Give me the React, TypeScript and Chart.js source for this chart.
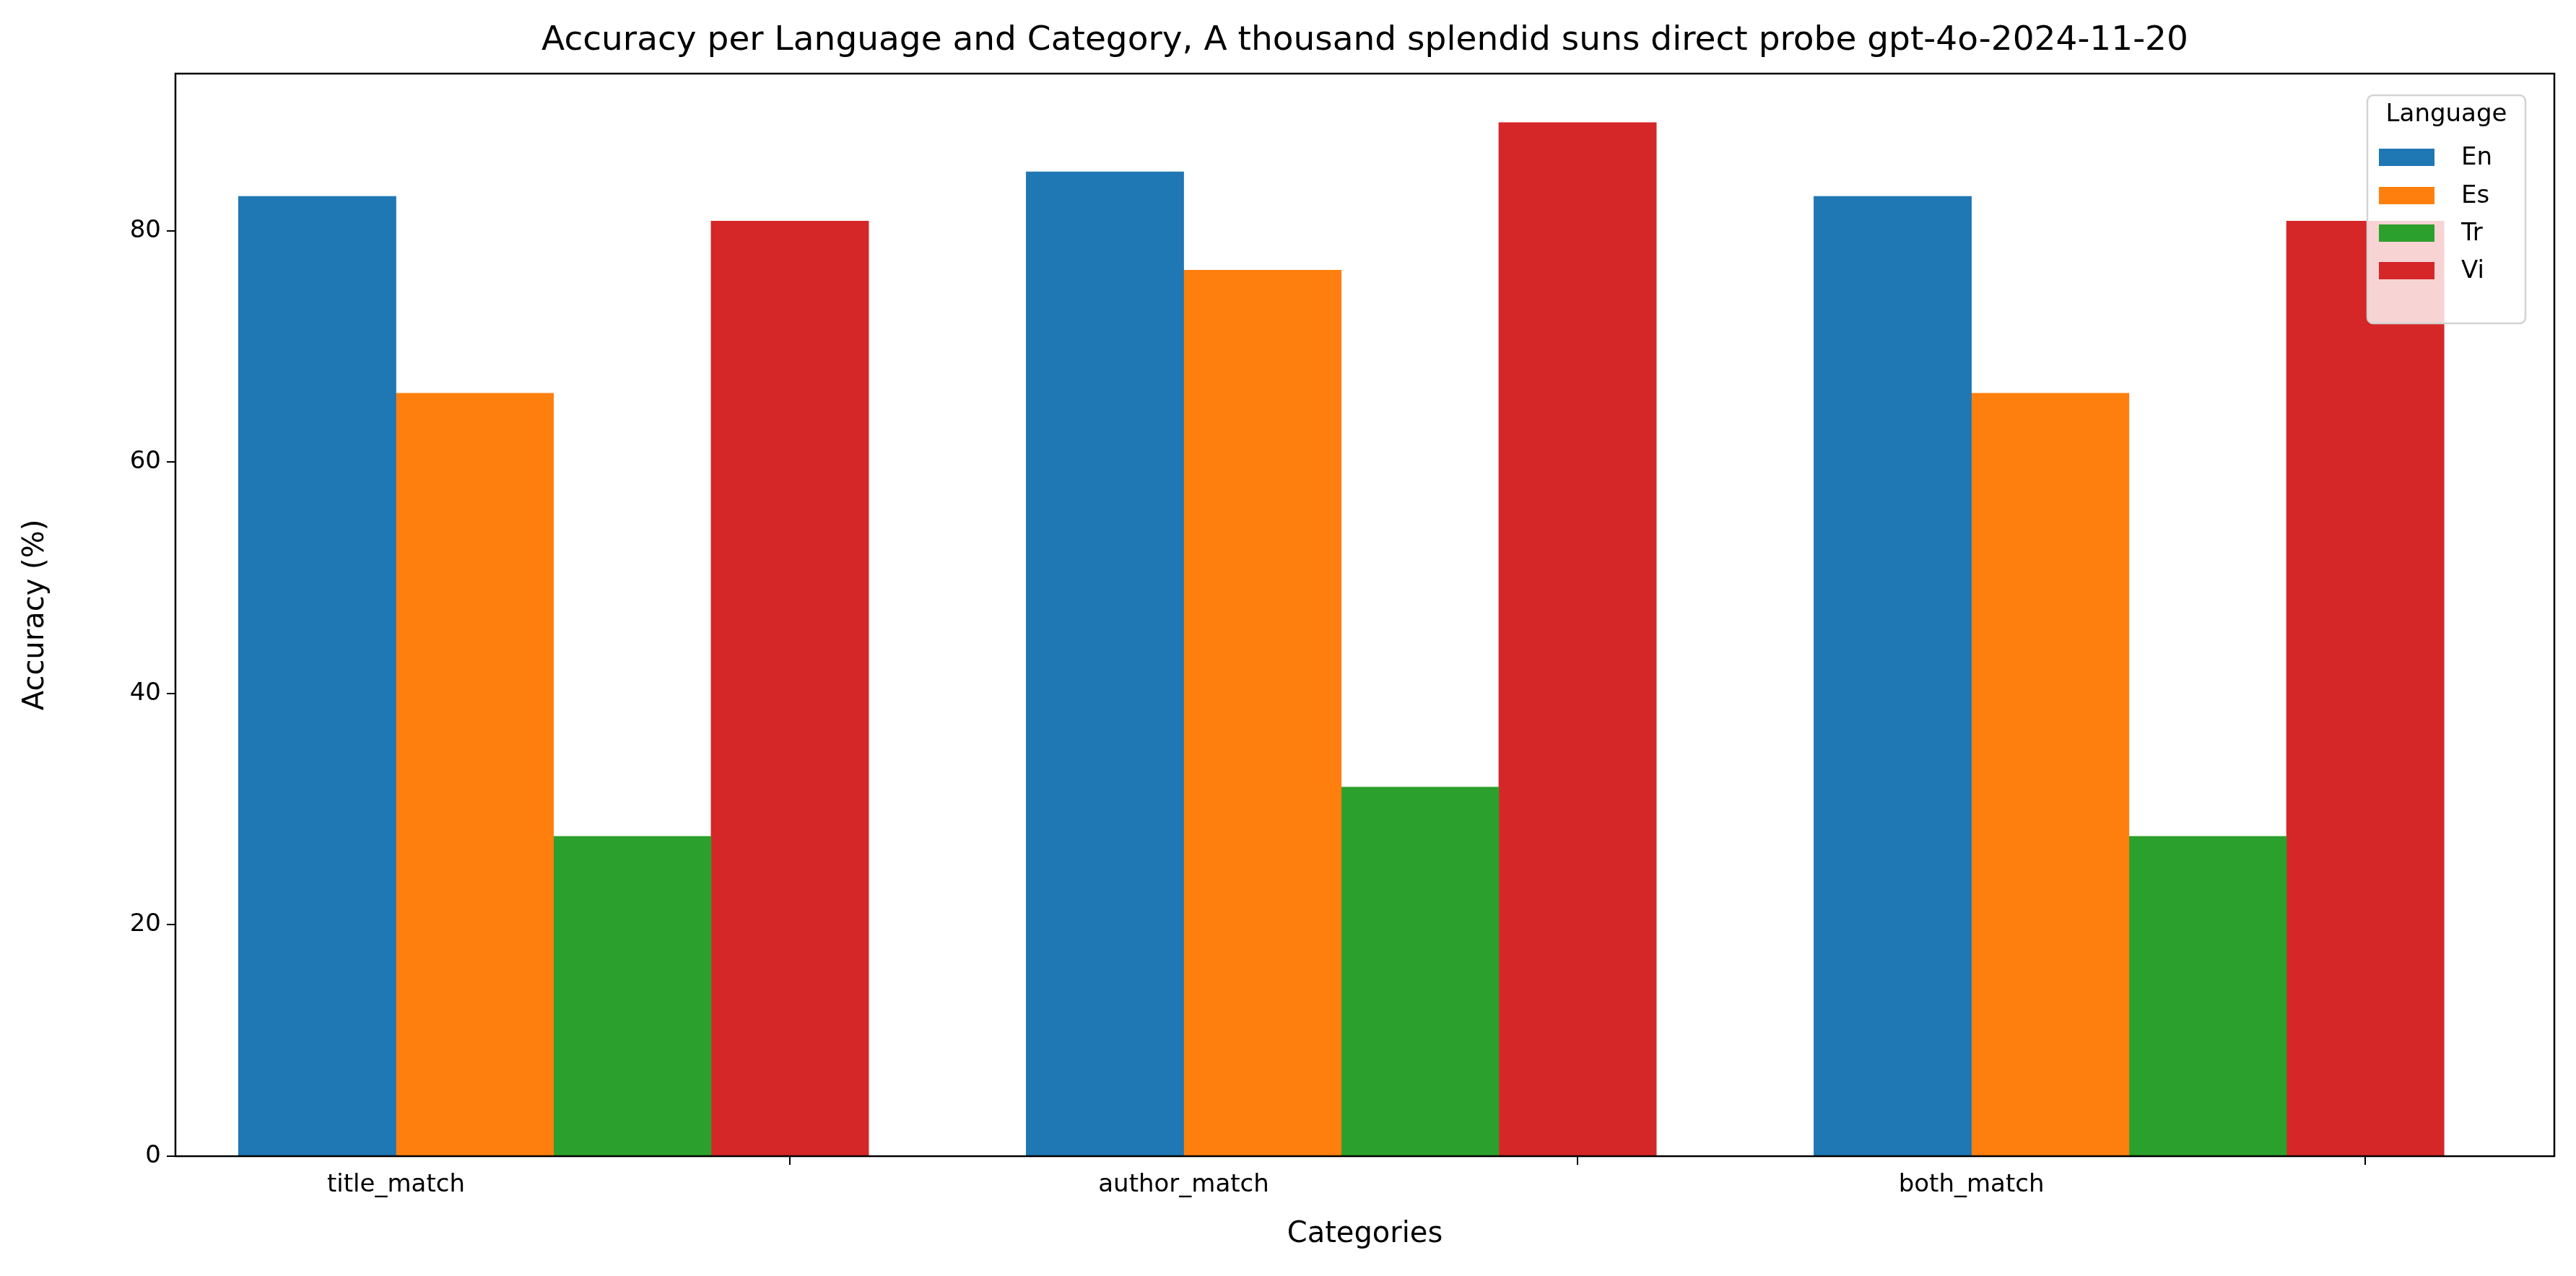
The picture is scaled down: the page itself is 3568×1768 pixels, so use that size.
import React, { useEffect, useRef } from "react";
import { Chart, registerables } from "chart.js";
Chart.register(...registerables);

const categories = ["title_match", "author_match", "both_match"];
const languages = ["En", "Es", "Tr", "Vi"];
const colors = ["#1f77b4", "#ff7f0e", "#2ca02c", "#d62728"];
const valuesEn = [82.98, 85.11, 82.98];
const valuesEs = [65.96, 76.6, 65.96];
const valuesTr = [27.66, 31.91, 27.66];
const valuesVi = [80.85, 89.36, 80.85];
const yTicks = [0, 20, 40, 60, 80];
const titleText = "Accuracy per Language and Category, A thousand splendid suns direct probe gpt-4o-2024-11-20";

const FONT = "'DejaVu Sans', sans-serif";

export default function App() {
  const ref = useRef<HTMLCanvasElement>(null);
  useEffect(() => {
    const series = [valuesEn, valuesEs, valuesTr, valuesVi];
    const pxPerUnit = (3538 - 243) / (2.74 + 0.28);
    const datasets = series.map((vals, k) => ({
      label: languages[k],
      data: vals.map((v, i) => ({ x: i + 0.2 * k - 0.1, y: v })),
      backgroundColor: colors[k],
      borderWidth: 0,
      barThickness: 0.2 * pxPerUnit,
      grouped: false,
    }));
    const overlay = {
      id: "overlay",
      afterDraw(chart: any) {
        const ctx = chart.ctx;
        const a = chart.chartArea;
        ctx.save();
        ctx.fillStyle = "#000";
        ctx.textAlign = "center";
        ctx.textBaseline = "middle";
        ctx.font = `47px ${FONT}`;
        ctx.fillText(titleText, (a.left + a.right) / 2, 57);
        ctx.font = `40px ${FONT}`;
        ctx.fillText("Categories", (a.left + a.right) / 2, 1711);
        ctx.save();
        ctx.translate(50, (a.top + a.bottom) / 2);
        ctx.rotate(-Math.PI / 2);
        ctx.fillText("Accuracy (%)", 0, 0);
        ctx.restore();
        // frame
        ctx.strokeStyle = "#000";
        ctx.lineWidth = 2.5;
        ctx.strokeRect(a.left, a.top, a.right - a.left, a.bottom - a.top);
        // legend
        const lx = 3279, ly = 132, lw = 219, lh = 316;
        ctx.fillStyle = "rgba(255,255,255,0.8)";
        ctx.strokeStyle = "#d3d3d3";
        ctx.lineWidth = 2.5;
        ctx.beginPath();
        (ctx as any).roundRect(lx, ly, lw, lh, 8);
        ctx.fill();
        ctx.stroke();
        ctx.fillStyle = "#000";
        ctx.font = `34px ${FONT}`;
        ctx.fillText("Language", lx + lw / 2, 159);
        ctx.textAlign = "left";
        const ys = [218, 271, 323, 375];
        languages.forEach((l, k) => {
          ctx.fillStyle = colors[k];
          ctx.fillRect(3295, ys[k] - 12, 77, 24);
          ctx.fillStyle = "#000";
          ctx.fillText(l, 3409, ys[k] + 1);
        });
        ctx.restore();
      },
    };
    const chart = new Chart(ref.current!, {
      type: "bar",
      data: { datasets } as any,
      options: {
        animation: false,
        responsive: false,
        devicePixelRatio: 1,
        layout: { padding: { left: 0, top: 102, right: 30, bottom: 0 } },
        plugins: { legend: { display: false }, tooltip: { enabled: false }, title: { display: false } },
        scales: {
          x: {
            type: "linear",
            min: -0.28,
            max: 2.74,
            offset: false,
            afterFit: (s: any) => { s.height = 166; },
            afterBuildTicks: (s: any) => { s.ticks = [0, 1, 2].map((v) => ({ value: v })); },
            ticks: {
              callback: (v: any) => categories[v] ?? "",
              font: { family: FONT, size: 34 },
              color: "#000",
              padding: 8,
              maxRotation: 0,
            },
            grid: { drawOnChartArea: false, tickLength: 12, color: "#000", lineWidth: 2 },
            border: { display: false },
          },
          y: {
            min: 0,
            max: 93.6,
            afterFit: (s: any) => { s.width = 243; },
            afterBuildTicks: (s: any) => { s.ticks = yTicks.map((v) => ({ value: v })); },
            ticks: {
              font: { family: FONT, size: 34 },
              color: "#000",
              padding: 8,
            },
            grid: { drawOnChartArea: false, tickLength: 12, color: "#000", lineWidth: 2 },
            border: { display: false },
          },
        },
      } as any,
      plugins: [overlay],
    });
    return () => chart.destroy();
  }, []);
  return (
    <div style={{ position: "absolute", left: 0, top: 0, width: 3568, height: 1768, background: "#fff" }}>
      <canvas ref={ref} width={3568} height={1768} style={{ width: 3568, height: 1768 }} />
    </div>
  );
}
